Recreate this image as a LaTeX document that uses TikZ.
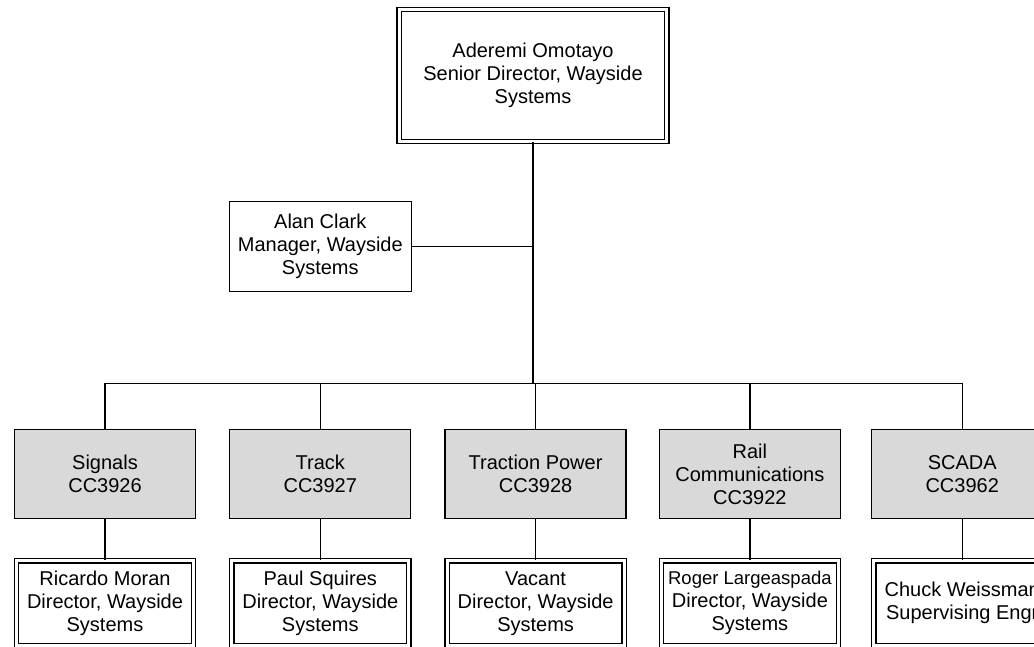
\documentclass[tikz,border=0pt]{standalone}
\usepackage{fontspec}
\setmainfont{Liberation Sans}
\usepackage{tikz}
\usetikzlibrary{positioning}
\definecolor{deptfill}{HTML}{D9D9D9}

\begin{document}
\begin{tikzpicture}[x=1pt, y=1pt,
  person/.style={draw, double, double distance=3pt, line width=1.3pt, fill=white, minimum width=177pt, minimum height=85pt, align=center, inner sep=2pt, font=\fontsize{20}{23}\selectfont},
  head/.style={person, minimum width=267.6pt, minimum height=132pt},
  dept/.style={draw, line width=1.3pt, fill=deptfill, minimum width=181pt, minimum height=89pt, align=center, inner sep=2pt, font=\fontsize{20}{23}\selectfont},
  mgr/.style={dept, fill=white, minimum width=181.7pt, minimum height=90pt},
  link/.style={line width=1.3pt}
]
  \useasboundingbox (0,0) rectangle (1034,646);
  \clip (0,0) rectangle (1034,646);

  \node[head] (senior) at (533,570.4) {Aderemi Omotayo\\Senior Director, Wayside\\Systems};
  \node[dept] (sig) at (105,172) {Signals\\CC3926};
  \node[dept, right=33pt of sig]   (trk)   {Track\\CC3927};
  \node[dept, right=33pt of trk]   (trac)  {Traction Power\\CC3928};
  \node[dept, right=32pt of trac]  (rail)  {Rail\\Communications\\CC3922};
  \node[dept, right=30pt of rail]  (scada) {SCADA\\CC3962};
  \node[mgr, above=137pt of trk]   (alan)  {Alan Clark\\Manager, Wayside\\Systems};
  \coordinate (bus) at (533,262.5);

  \node[person, below=41pt of sig]   (ricardo) {Ricardo Moran\\Director, Wayside\\Systems};
  \node[person, below=41pt of trk]   (paul)    {Paul Squires\\Director, Wayside\\Systems};
  \node[person, below=41pt of trac]  (vacant)  {Vacant\\Director, Wayside\\Systems};
  \node[person, below=41pt of rail]  (roger)   {{\fontsize{18.5}{23}\selectfont Roger Largeaspada}\\Director, Wayside\\Systems};
  \node[person, below=41pt of scada] (chuck)   {Chuck Weissman\\Supervising Engr};

  \draw[link] (senior) -- (bus);
  \draw[link] (alan) -- (alan -| bus);
  \draw[link] (sig.north) |- (scada.north |- bus) -- (scada.north);
  \foreach \d in {trk,trac,rail}
    \draw[link] (\d.north |- bus) -- (\d);
  \foreach \d/\p in {sig/ricardo, trk/paul, trac/vacant, rail/roger, scada/chuck}
    \draw[link] (\d) -- (\p);
\end{tikzpicture}
\end{document}
